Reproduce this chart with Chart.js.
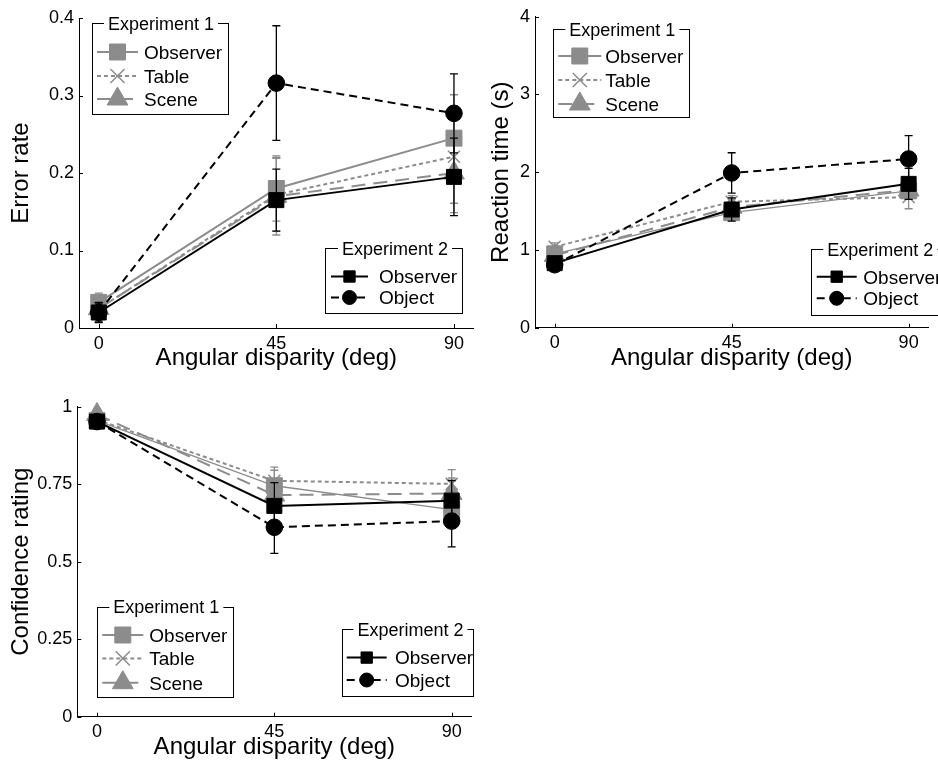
<!DOCTYPE html>
<html>
<head>
<meta charset="utf-8">
<script src="https://cdn.jsdelivr.net/npm/chart.js@4.4.1/dist/chart.umd.min.js"></script>
<style>
  html, body { margin: 0; padding: 0; background: #fff; width: 938px; height: 764px; overflow: hidden; }
  canvas { position: absolute; }
</style>
</head>
<body>
<canvas id="errChart" width="480" height="380" style="left:0;top:0"></canvas>
<canvas id="rtChart" width="458" height="380" style="left:480px;top:0"></canvas>
<canvas id="confChart" width="480" height="380" style="left:0;top:389px"></canvas>
<script>
// x positions and tick labels
const angles = [0, 45, 90];
const angleTicks = [0, 45, 90];

// error rate panel
const errorTicks = [0, 0.1, 0.2, 0.3, 0.4];
const errE1Observer = [0.033, 0.180, 0.245];
const errE1ObserverSe = [0.012, 0.042, 0.056];
const errE1Table = [0.025, 0.172, 0.221];
const errE1TableSe = [0.012, 0.047, 0.060];
const errE1Scene = [0.025, 0.170, 0.200];
const errE1SceneSe = [0.012, 0.050, 0.051];
const errE2Observer = [0.020, 0.165, 0.195];
const errE2ObserverSe = [0.013, 0.040, 0.050];
const errE2Object = [0.020, 0.316, 0.277];
const errE2ObjectSe = [0.012, 0.074, 0.051];

// reaction time panel
const rtTicks = [0, 1, 2, 3, 4];
const rtE1Observer = [0.95, 1.48, 1.76];
const rtE1ObserverSe = [0.06, 0.10, 0.10];
const rtE1Table = [1.04, 1.62, 1.68];
const rtE1TableSe = [0.05, 0.08, 0.15];
const rtE1Scene = [0.93, 1.55, 1.77];
const rtE1SceneSe = [0.06, 0.10, 0.10];
const rtE2Observer = [0.83, 1.52, 1.85];
const rtE2ObserverSe = [0.06, 0.15, 0.20];
const rtE2Object = [0.81, 1.99, 2.17];
const rtE2ObjectSe = [0.06, 0.26, 0.30];

// confidence panel
const confTicks = [0, 0.25, 0.5, 0.75, 1];
const confE1Observer = [0.955, 0.745, 0.668];
const confE1ObserverSe = [0.015, 0.050, 0.060];
const confE1Table = [0.958, 0.761, 0.751];
const confE1TableSe = [0.015, 0.044, 0.046];
const confE1Scene = [0.975, 0.715, 0.720];
const confE1SceneSe = [0.015, 0.050, 0.050];
const confE2Observer = [0.952, 0.680, 0.697];
const confE2ObserverSe = [0.012, 0.075, 0.065];
const confE2Object = [0.952, 0.611, 0.631];
const confE2ObjectSe = [0.012, 0.084, 0.083];

const FONT = "'Liberation Sans', Arial, Helvetica, sans-serif";
Chart.defaults.font.family = FONT;
Chart.defaults.color = '#000';

const GRAY = '#8c8c8c';
const looks = {
  e1Observer: { color: GRAY, width: 2, dash: [], pointStyle: 'rect', radius: 11.3, legendRadius: 11.3, order: 3 },
  e1Table: { color: GRAY, width: 2, dash: [4, 3], pointStyle: 'crossRot', radius: 8.5, legendRadius: 10, order: 4 },
  e1Scene: { color: GRAY, width: 2, dash: [14, 8], pointStyle: 'triangle', radius: 12, legendRadius: 12, order: 5 },
  e2Observer: { color: '#000', width: 2, dash: [], pointStyle: 'rect', radius: 10.6, legendRadius: 8, order: 1 },
  e2Object: { color: '#000', width: 2, dash: [8, 5], pointStyle: 'circle', radius: 8.3, legendRadius: 7, order: 2 }
};

function makeSet(label, values, errors, look, lineWidth) {
  return {
    label: label,
    errors: errors,
    data: values.map((v, i) => ({ x: angles[i], y: v })),
    borderColor: look.color,
    backgroundColor: look.color,
    borderWidth: lineWidth || look.width,
    borderDash: look.dash,
    pointStyle: look.pointStyle,
    pointRadius: look.radius,
    pointBackgroundColor: look.color,
    pointBorderColor: look.color,
    pointBorderWidth: look.pointStyle === 'crossRot' ? 1.5 : 1,
    tension: 0,
    fill: false,
    clip: false,
    order: look.order
  };
}

// error bars, drawn just under each series
const errorBars = {
  id: 'errorBars',
  beforeDatasetDraw(chart, args) {
    const ds = chart.data.datasets[args.index];
    if (!ds.errors) return;
    const ctx = chart.ctx, ys = chart.scales.y;
    ctx.save();
    ctx.strokeStyle = ds.borderColor;
    ctx.lineWidth = 1.3;
    ctx.setLineDash([]);
    args.meta.data.forEach((pt, i) => {
      const v = ds.data[i].y, e = ds.errors[i];
      const top = ys.getPixelForValue(v + e), bot = ys.getPixelForValue(v - e);
      ctx.beginPath();
      ctx.moveTo(pt.x, top); ctx.lineTo(pt.x, bot);
      ctx.moveTo(pt.x - 4, top); ctx.lineTo(pt.x + 4, top);
      ctx.moveTo(pt.x - 4, bot); ctx.lineTo(pt.x + 4, bot);
      ctx.stroke();
    });
    ctx.restore();
  }
};

// matlab style ticks pointing into the plot
const inwardTicks = {
  id: 'inwardTicks',
  afterDraw(chart) {
    const ctx = chart.ctx, xs = chart.scales.x, ys = chart.scales.y, a = chart.chartArea;
    ctx.save();
    ctx.strokeStyle = '#000';
    ctx.lineWidth = 1;
    ctx.beginPath();
    xs.ticks.forEach(t => {
      const px = Math.round(xs.getPixelForValue(t.value)) + 0.5;
      ctx.moveTo(px, a.bottom); ctx.lineTo(px, a.bottom - 4);
    });
    ys.ticks.forEach(t => {
      const py = Math.round(ys.getPixelForValue(t.value)) + 0.5;
      ctx.moveTo(a.left, py); ctx.lineTo(a.left + 4, py);
    });
    ctx.stroke();
    ctx.restore();
  }
};

function boxLegends(boxes) {
  return {
    id: 'boxLegends',
    afterDraw(chart) {
      const ctx = chart.ctx;
      boxes.forEach(b => {
        ctx.save();
        ctx.fillStyle = '#fff';
        ctx.fillRect(b.x, b.y, b.w, b.h);
        ctx.strokeStyle = '#000';
        ctx.lineWidth = 1;
        ctx.setLineDash([]);
        ctx.strokeRect(Math.round(b.x) + 0.5, Math.round(b.y) + 0.5, Math.round(b.w), Math.round(b.h));
        ctx.font = '18px ' + FONT;
        const tw = ctx.measureText(b.title).width;
        ctx.fillStyle = '#fff';
        ctx.fillRect(b.x + b.titleDx - 4, b.y - 3, tw + 8, 7);
        ctx.fillStyle = '#000';
        ctx.textBaseline = 'alphabetic';
        ctx.textAlign = 'left';
        ctx.fillText(b.title, b.x + b.titleDx, b.y + 6.5);
        b.rows.forEach(([label, look, dy]) => {
          const cy = b.y + dy;
          ctx.strokeStyle = look.color;
          ctx.lineWidth = look.width;
          ctx.setLineDash(look.dash);
          ctx.beginPath();
          ctx.moveTo(b.x + b.sx0, cy); ctx.lineTo(b.x + b.sx1, cy);
          ctx.stroke();
          ctx.setLineDash([]);
          ctx.fillStyle = look.color;
          const bw = look.pointStyle === 'crossRot' ? 1.5 : 1;
          ctx.lineWidth = bw;
          Chart.helpers.drawPoint(ctx, { pointStyle: look.pointStyle, radius: look.legendRadius, rotation: 0, borderWidth: bw },
            b.x + (b.sx0 + b.sx1) / 2, cy);
          ctx.fillStyle = '#000';
          ctx.font = '19px ' + FONT;
          ctx.fillText(label, b.x + b.tx, cy + 6.8);
        });
        ctx.restore();
      });
    }
  };
}

function makeScales(yTicks, yMax, yTitle, yWidth, xHeight) {
  return {
    x: {
      type: 'linear', min: -5, max: 95,
      afterBuildTicks: s => { s.ticks = angleTicks.map(v => ({ value: v })); },
      afterFit: s => { s.height = xHeight; },
      grid: { display: false, drawTicks: false },
      border: { display: true, color: '#000', width: 1 },
      ticks: { font: { size: 18 }, padding: 5, maxRotation: 0, autoSkip: false, callback: v => String(v) },
      title: { display: true, text: 'Angular disparity (deg)', font: { size: 24 }, padding: { top: 0, bottom: 7 } }
    },
    y: {
      type: 'linear', min: 0, max: yMax,
      afterBuildTicks: s => { s.ticks = yTicks.map(v => ({ value: v })); },
      afterFit: s => { s.width = yWidth; },
      grid: { display: false, drawTicks: false },
      border: { display: true, color: '#000', width: 1 },
      ticks: { font: { size: 18 }, padding: 5, autoSkip: false, callback: v => String(v) },
      title: { display: true, text: yTitle, font: { size: 24 }, padding: { top: 7, bottom: 0 } }
    }
  };
}

function makeChart(id, datasets, scales, pad, legends) {
  return new Chart(document.getElementById(id), {
    type: 'line',
    data: { datasets: datasets },
    options: {
      responsive: false,
      animation: false,
      events: [],
      layout: { autoPadding: false, padding: pad },
      plugins: { legend: { display: false }, tooltip: { enabled: false } },
      scales: scales
    },
    plugins: [errorBars, inwardTicks, boxLegends(legends)]
  });
}

// Error rate
makeChart('errChart', [
  makeSet('Observer', errE2Observer, errE2ObserverSe, looks.e2Observer),
  makeSet('Object', errE2Object, errE2ObjectSe, looks.e2Object),
  makeSet('Observer', errE1Observer, errE1ObserverSe, looks.e1Observer),
  makeSet('Table', errE1Table, errE1TableSe, looks.e1Table),
  makeSet('Scene', errE1Scene, errE1SceneSe, looks.e1Scene)
], makeScales(errorTicks, 0.4, 'Error rate', 79, 52),
  { left: 0, top: 18, right: 6.3, bottom: 0 },
  [
    { x: 92, y: 23, w: 136, h: 91, title: 'Experiment 1', titleDx: 16, sx0: 5, sx1: 46, tx: 52,
      rows: [['Observer', looks.e1Observer, 29], ['Table', looks.e1Table, 53], ['Scene', looks.e1Scene, 76]] },
    { x: 325, y: 248, w: 137, h: 65, title: 'Experiment 2', titleDx: 17, sx0: 6, sx1: 43, tx: 54,
      rows: [['Observer', looks.e2Observer, 28.5], ['Object', looks.e2Object, 49.5]] }
  ]);

// Reaction time
makeChart('rtChart', [
  makeSet('Observer', rtE2Observer, rtE2ObserverSe, looks.e2Observer),
  makeSet('Object', rtE2Object, rtE2ObjectSe, looks.e2Object),
  makeSet('Observer', rtE1Observer, rtE1ObserverSe, looks.e1Observer, 1.3),
  makeSet('Table', rtE1Table, rtE1TableSe, looks.e1Table),
  makeSet('Scene', rtE1Scene, rtE1SceneSe, looks.e1Scene)
], makeScales(rtTicks, 4, 'Reaction time (s)', 55, 52.3),
  { left: 0, top: 16.7, right: 9.7, bottom: 0 },
  [
    { x: 73.3, y: 29.3, w: 135.7, h: 88, title: 'Experiment 1', titleDx: 16, sx0: 5, sx1: 48, tx: 52,
      rows: [['Observer', looks.e1Observer, 26.7], ['Table', looks.e1Table, 50.7], ['Scene', looks.e1Scene, 74.7]] },
    { x: 330.7, y: 249.3, w: 137, h: 66.4, title: 'Experiment 2', titleDx: 16.6, sx0: 6, sx1: 46, tx: 52.6,
      rows: [['Observer', looks.e2Observer, 27.4], ['Object', looks.e2Object, 49]] }
  ]);

// Confidence rating
makeChart('confChart', [
  makeSet('Observer', confE2Observer, confE2ObserverSe, looks.e2Observer),
  makeSet('Object', confE2Object, confE2ObjectSe, looks.e2Object),
  makeSet('Observer', confE1Observer, confE1ObserverSe, looks.e1Observer, 1.3),
  makeSet('Table', confE1Table, confE1TableSe, looks.e1Table),
  makeSet('Scene', confE1Scene, confE1SceneSe, looks.e1Scene)
], makeScales(confTicks, 1, 'Confidence rating', 77.3, 52.3),
  { left: 0, top: 17.7, right: 8.6, bottom: 0 },
  [
    { x: 97.3, y: 217.7, w: 136, h: 90, title: 'Experiment 1', titleDx: 16, sx0: 5, sx1: 46, tx: 52,
      rows: [['Observer', looks.e1Observer, 28.3], ['Table', looks.e1Table, 51.7], ['Scene', looks.e1Scene, 76]] },
    { x: 341.7, y: 240.3, w: 131, h: 66.7, title: 'Experiment 2', titleDx: 15.7, sx0: 5, sx1: 45, tx: 53.3,
      rows: [['Observer', looks.e2Observer, 28.3], ['Object', looks.e2Object, 50.7]] }
  ]);
</script>
</body>
</html>
